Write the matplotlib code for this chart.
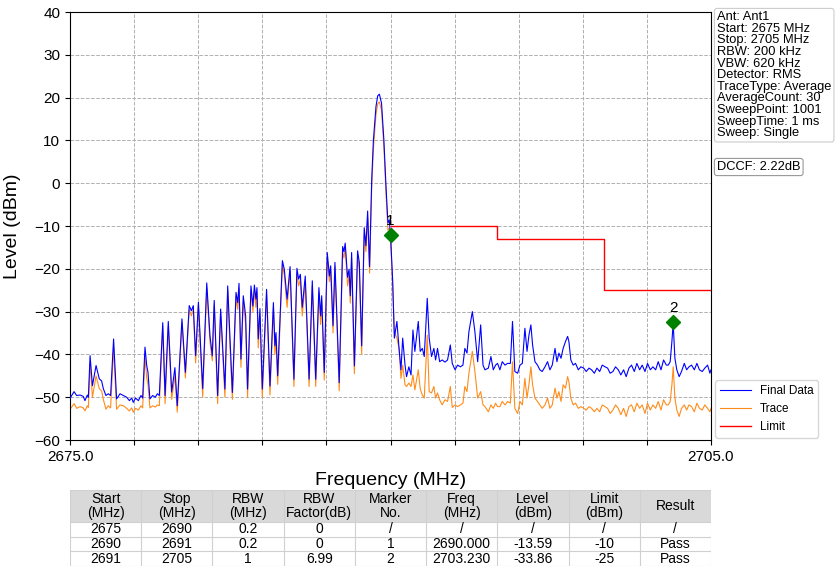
import matplotlib.pyplot as plt
import numpy as np

# spectrum (MHz, dBm)
freq = [2675.00, 2675.08, 2675.19, 2675.31, 2675.47, 2675.62, 2675.70, 2675.81, 2675.86, 2675.94,
        2676.05, 2676.22, 2676.37, 2676.48, 2676.56, 2676.68, 2676.79, 2676.90, 2677.04, 2677.18,
        2677.34, 2677.50, 2677.65, 2677.78, 2677.89, 2677.96, 2678.07, 2678.20, 2678.32, 2678.40,
        2678.51, 2678.59, 2678.65, 2678.74, 2678.87, 2678.99, 2679.09, 2679.18, 2679.34, 2679.45,
        2679.60, 2679.76, 2679.91, 2680.02, 2680.24, 2680.40, 2680.58, 2680.68, 2680.77, 2680.88,
        2681.01, 2681.21, 2681.40, 2681.55, 2681.66, 2681.75, 2681.91, 2682.05,
        2682.25, 2682.38, 2682.49, 2682.60, 2682.77, 2682.85, 2682.91, 2683.00, 2683.11, 2683.22,
        2683.31, 2683.47, 2683.56, 2683.63, 2683.70, 2683.75, 2683.81, 2683.89, 2684.00, 2684.20,
        2684.36, 2684.52, 2684.59, 2684.64, 2684.72, 2684.94, 2685.03, 2685.16, 2685.30, 2685.48,
        2685.62, 2685.70, 2685.78, 2685.87, 2686.01, 2686.19, 2686.34, 2686.50, 2686.65, 2686.73,
        2686.78, 2686.90, 2687.04, 2687.14, 2687.20, 2687.31, 2687.40, 2687.60, 2687.76, 2687.82,
        2687.88, 2687.99, 2688.06, 2688.12, 2688.18, 2688.31, 2688.46, 2688.54, 2688.65, 2688.77,
        2688.85, 2688.93, 2689.02,
        2689.12, 2689.20, 2689.32, 2689.40, 2689.48, 2689.58, 2689.69, 2689.79, 2689.88, 2689.94,
        2690.00, 2690.10,
        2690.18, 2690.30, 2690.40, 2690.49, 2690.57, 2690.68, 2690.75, 2690.86, 2690.96, 2691.05,
        2691.14, 2691.30, 2691.39, 2691.49, 2691.58, 2691.72, 2691.81, 2691.92, 2692.03, 2692.11,
        2692.20, 2692.30, 2692.42, 2692.55, 2692.67, 2692.80, 2692.89, 2693.02, 2693.14, 2693.27,
        2693.39, 2693.48, 2693.58, 2693.67, 2693.83, 2693.95, 2694.08, 2694.22, 2694.33, 2694.42,
        2694.58, 2694.70, 2694.81, 2694.92, 2695.01, 2695.12, 2695.23, 2695.36, 2695.48, 2695.61,
        2695.71, 2695.82, 2695.95, 2696.06, 2696.17, 2696.29, 2696.39, 2696.48, 2696.57, 2696.65,
        2696.76, 2696.88, 2696.99, 2697.10,
        2697.23, 2697.35, 2697.46, 2697.57, 2697.70, 2697.79, 2697.88, 2697.98, 2698.08, 2698.19,
        2698.29, 2698.35, 2698.44, 2698.55, 2698.66, 2698.79, 2698.91, 2699.04, 2699.16, 2699.29,
        2699.41, 2699.54, 2699.66, 2699.79, 2699.91, 2700.04, 2700.16, 2700.28, 2700.41, 2700.53,
        2700.66, 2700.78, 2700.91, 2701.03, 2701.16, 2701.28, 2701.41, 2701.53, 2701.66, 2701.78,
        2701.91, 2702.03, 2702.16, 2702.28, 2702.41, 2702.53, 2702.66, 2702.78, 2702.91, 2703.00,
        2703.09, 2703.17, 2703.23, 2703.31, 2703.40, 2703.51, 2703.62, 2703.75, 2703.86, 2703.97,
        2704.09, 2704.22, 2704.34, 2704.46, 2704.59, 2704.71, 2704.84, 2704.95, 2705.00]

final_data = [-50.3, -49.6, -48.7, -49.6, -49.5, -49.8, -50.8, -49.5, -50.0, -40.3,
              -47.3, -42.6, -45.7, -46.2, -48.0, -49.6, -49.2, -49.6, -36.4, -50.4,
              -49.2, -49.6, -50.0, -50.8, -50.2, -51.2, -50.2, -50.8, -49.6, -50.2,
              -38.3, -42.6, -44.2, -50.4, -49.6, -50.0, -49.2, -49.6, -32.6, -49.6,
              -32.3, -48.8, -43.1, -52.0, -31.7, -44.2, -28.6, -29.8, -28.6, -40.3,
              -27.8, -48.0, -23.3, -35.6, -40.3, -27.4, -49.6, -29.4,
              -48.1, -24.0, -36.4, -48.9, -25.5, -27.9, -23.4, -41.1, -26.3, -31.0,
              -48.1, -24.0, -28.7, -23.8, -27.1, -24.4, -36.4, -29.3, -48.1, -24.8,
              -47.4, -27.9, -38.0, -34.9, -45.0, -18.1, -20.1, -27.1, -19.5, -45.8,
              -19.9, -22.4, -21.3, -29.0, -21.7, -45.8, -22.8, -45.8, -24.4, -31.0,
              -26.3, -44.2, -16.2, -21.7, -19.3, -33.3, -18.5, -46.6, -14.8, -16.0,
              -14.0, -22.0, -20.1, -26.3, -16.2, -42.7, -15.8, -18.5, -38.0, -10.4,
              -14.6, -6.5, -19.5,
              0.7, 10.1, 17.9, 20.4, 20.8, 18.7, 10.1, -0.8, -9.3, -8.6,
              -12.0, -22.6,
              -36.2, -32.3, -38.6, -43.6, -36.2, -42.5, -45.2, -42.9, -44.8, -34.3,
              -39.3, -32.3, -39.3, -38.6, -40.5, -26.9, -36.2, -40.5, -38.6, -41.3,
              -38.6, -41.7, -41.3, -41.8, -41.3, -37.8, -42.1, -43.6, -42.5, -42.9,
              -42.5, -38.6, -39.7, -34.7, -30.0, -34.7, -41.7, -33.1, -42.5, -43.6,
              -43.2, -40.5, -43.6, -42.5, -42.1, -43.6, -41.7, -42.5, -42.1, -42.1,
              -32.3, -44.0, -44.4, -42.5, -42.1, -33.9, -39.3, -35.5, -33.1, -37.8,
              -41.7, -42.5, -43.6, -44.0,
              -42.9, -41.7, -43.6, -42.5, -38.6, -41.7, -39.7, -40.9, -38.6, -37.0,
              -35.8, -37.0, -41.3, -42.5, -42.1, -43.6, -42.9, -43.2, -44.0, -43.2,
              -43.6, -44.4, -43.2, -44.0, -42.5, -42.9, -43.2, -44.4, -44.0, -42.9,
              -43.6, -44.8, -43.6, -45.2, -43.2, -42.5, -44.0, -42.1, -43.6, -42.5,
              -44.0, -42.1, -43.6, -42.9, -43.6, -41.7, -43.6, -41.3, -42.5, -42.5,
              -41.7, -37.0, -32.7, -40.9, -43.6, -45.2, -44.0, -42.1, -43.6, -42.9,
              -42.5, -43.6, -42.1, -43.6, -44.0, -43.2, -42.5, -44.4, -43.6]

trace = [-52.8, -52.3, -51.5, -52.6, -52.2, -52.5, -53.2, -52.0, -52.4, -42.0,
         -50.0, -45.0, -48.0, -48.5, -50.5, -52.8, -52.0, -52.5, -38.5, -52.8,
         -51.8, -52.0, -52.6, -53.2, -52.5, -53.5, -52.6, -53.0, -52.0, -52.5,
         -40.5, -45.5, -47.0, -52.5, -52.0, -52.3, -51.8, -52.0, -33.5, -51.5,
         -33.5, -50.5, -45.0, -53.5, -32.5, -45.5, -29.5, -31.0, -29.5, -42.0,
         -28.5, -50.0, -24.5, -37.0, -41.5, -28.5, -51.5, -30.5,
         -50.0, -25.0, -38.5, -50.5, -26.5, -29.5, -24.5, -43.0, -27.5, -33.0,
         -50.0, -25.0, -30.0, -25.0, -29.0, -25.5, -38.5, -31.0, -50.0, -26.0,
         -49.5, -29.0, -40.0, -36.5, -47.0, -19.0, -21.5, -29.0, -20.5, -47.5,
         -21.0, -24.0, -22.5, -31.0, -23.0, -47.5, -24.0, -47.5, -25.5, -33.0,
         -27.5, -46.0, -17.5, -23.0, -20.5, -35.0, -19.5, -48.5, -16.0, -17.5,
         -15.0, -24.0, -21.5, -28.0, -17.5, -44.5, -17.0, -20.0, -40.0, -12.0,
         -16.0, -8.0, -21.0,
         -1.0, 8.0, 16.0, 18.5, 19.0, 17.0, 8.5, -2.5, -11.0, -10.5,
         -13.0, -23.5,
         -34.7, -36.2, -38.6, -45.6, -42.5, -47.1, -47.5, -46.7, -47.5, -44.8,
         -48.3, -43.6, -48.0, -49.5, -50.2, -35.5, -48.7, -49.0, -47.5, -50.2,
         -49.0, -50.6, -51.8, -50.6, -51.0, -47.5, -52.4, -51.8, -52.2, -51.8,
         -51.4, -47.5, -48.7, -44.4, -39.3, -44.0, -50.2, -48.7, -51.8, -52.2,
         -53.4, -51.8, -52.6, -51.4, -52.2, -52.2, -51.0, -51.8, -51.0, -51.4,
         -41.7, -52.6, -53.8, -51.0, -51.8, -45.6, -50.2, -47.0, -42.9, -47.1,
         -50.2, -51.0, -51.8, -52.6,
         -51.8, -50.2, -52.6, -51.8, -47.9, -50.2, -48.7, -51.0, -47.1, -47.9,
         -45.2, -46.4, -50.2, -51.8, -51.4, -52.6, -52.2, -52.6, -53.0, -52.2,
         -52.6, -53.4, -52.6, -53.4, -51.8, -52.2, -52.6, -53.8, -53.0, -51.8,
         -52.6, -54.1, -52.6, -54.5, -52.2, -51.8, -53.4, -51.4, -52.6, -51.8,
         -53.8, -51.4, -53.0, -51.8, -52.6, -51.0, -53.0, -50.6, -51.8, -51.8,
         -51.0, -47.1, -42.9, -50.2, -53.0, -54.5, -52.6, -51.8, -53.0, -51.8,
         -52.2, -53.4, -51.4, -52.6, -53.0, -51.8, -52.6, -53.4, -52.6]

limit_freq = [2690, 2695, 2700, 2705]
limit_level = [-10, -13, -25, -25]

marker_freq = [2690.0, 2703.23]
marker_level = [-12.0, -32.4]
marker_names = ['1', '2']

info_lines = ['Ant: Ant1', 'Start: 2675 MHz', 'Stop: 2705 MHz', 'RBW: 200 kHz', 'VBW: 620 kHz',
              'Detector: RMS', 'TraceType: Average', 'AverageCount: 30', 'SweepPoint: 1001',
              'SweepTime: 1 ms', 'Sweep: Single']
dccf_text = 'DCCF: 2.22dB'

table_header = ['Start\n(MHz)', 'Stop\n(MHz)', 'RBW\n(MHz)', 'RBW\nFactor(dB)', 'Marker\nNo.',
                'Freq\n(MHz)', 'Level\n(dBm)', 'Limit\n(dBm)', 'Result']
table_rows = [['2675', '2690', '0.2', '0', '/', '/', '/', '/', '/'],
              ['2690', '2691', '0.2', '0', '1', '2690.000', '-13.59', '-10', 'Pass'],
              ['2691', '2705', '1', '6.99', '2', '2703.230', '-33.86', '-25', 'Pass']]

plt.rcParams['font.family'] = ['Liberation Sans', 'DejaVu Sans']

W, H = 835, 572
fig = plt.figure(figsize=(W / 100, H / 100), dpi=100)
ax = fig.add_axes([70 / W, 1 - 440 / H, 641 / W, 428 / H])

ax.plot(freq, final_data, color='#0000ff', lw=0.8, label='Final Data', zorder=3)
ax.plot(freq, trace, color='#ff8c1a', lw=0.8, label='Trace', zorder=2)
ax.step(limit_freq, limit_level, where='post', color='#ff0000', lw=1.0, label='Limit', zorder=4)

ax.plot(marker_freq, marker_level, 'D', color='#008000', ms=7, zorder=5)
for mf, ml, mn in zip(marker_freq, marker_level, marker_names):
    ax.annotate(mn, (mf, ml), xytext=(0, 5), textcoords='offset points',
                ha='center', va='bottom', fontsize=11, zorder=6)

ax.set_xlim(2675, 2705)
ax.set_ylim(-60, 40)
xt = np.arange(2675, 2706, 3)
ax.set_xticks(xt)
ax.set_xticklabels(['2675.0'] + [''] * (len(xt) - 2) + ['2705.0'])
ax.set_yticks(np.arange(-60, 41, 10))
ax.tick_params(labelsize=11)
ax.grid(True, color='#b0b0b0', ls='--', lw=0.7)
ax.set_xlabel('Frequency (MHz)', fontsize=14, labelpad=6)
ax.set_ylabel('Level (dBm)', fontsize=14, labelpad=10)

ax.legend(loc='lower left', bbox_to_anchor=(1.003, 0.0), fontsize=8.5, frameon=True,
          edgecolor='#cccccc', handlelength=2.6, borderaxespad=0.2)

fig.text(717 / W, 1 - 11 / H, '\n'.join(info_lines), fontsize=9.3, va='top', ha='left',
         linespacing=0.96,
         bbox=dict(boxstyle='round,pad=0.2', fc='white', ec='#cccccc', lw=0.8))
fig.text(717 / W, 1 - 161 / H, dccf_text, fontsize=9.3, va='top', ha='left',
         bbox=dict(boxstyle='round,pad=0.2', fc='white', ec='#999999', lw=0.8))

# table below the plot
tax = fig.add_axes([70 / W, 1 - 566 / H, 641 / W, 76 / H])
tax.set_xlim(0, 9)
tax.set_ylim(0, 76)
tax.axis('off')
head_h = 32
row_h = (76 - head_h) / 3
tax.add_patch(plt.Rectangle((0, 76 - head_h), 9, head_h, fc='#d9d9d9', ec='none'))
for j, h in enumerate(table_header):
    tax.text(j + 0.5, 76 - head_h / 2, h, ha='center', va='center', fontsize=10,
             linespacing=0.95, family=['Liberation Sans Narrow', 'Liberation Sans'])
for i, row in enumerate(table_rows):
    yc = 76 - head_h - row_h * (i + 0.5)
    for j, v in enumerate(row):
        tax.text(j + 0.5, yc, v, ha='center', va='center', fontsize=10,
                 family=['Liberation Sans Narrow', 'Liberation Sans'])
for j in range(10):
    tax.plot([j, j], [0, 76], color='#d0d0d0', lw=0.8)
for k in range(4):
    tax.plot([0, 9], [row_h * k, row_h * k], color='#d0d0d0', lw=0.8)
tax.plot([0, 9], [76, 76], color='#d0d0d0', lw=0.8)

fig.savefig('out.png', dpi=100)
